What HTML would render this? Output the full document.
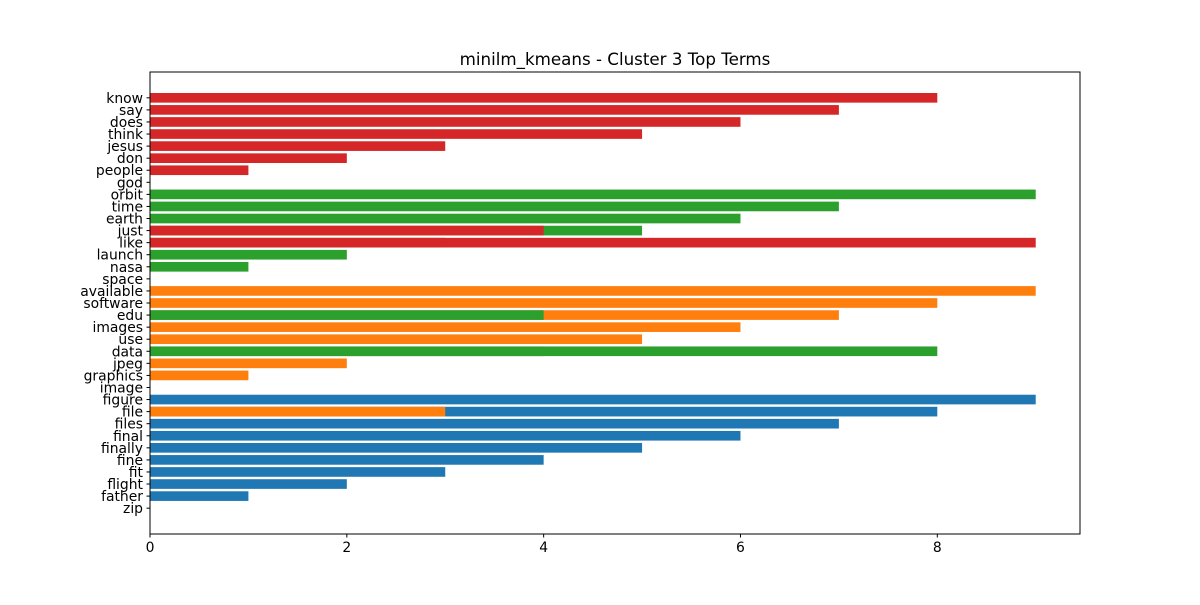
<!DOCTYPE html>
<html><head><meta charset="utf-8"><style>
body{margin:0;background:#fff;}
svg{font-family:"DejaVu Sans","Liberation Sans",sans-serif;}
</style></head><body>
<svg id="chart" width="1200" height="600"></svg>
<script>
const seriesColors = ["#1f77b4","#ff7f0e","#2ca02c","#d62728"];
const blueTerms = ["zip","father","flight","fit","fine","finally","final","files","file","figure"];
const blueValues = [0,1,2,3,4,5,6,7,8,9];
const orangeTerms = ["image","graphics","jpeg","file","data","use","images","edu","software","available"];
const orangeValues = [0,1,2,3,4,5,6,7,8,9];
const greenTerms = ["space","nasa","launch","like","edu","just","earth","time","data","orbit"];
const greenValues = [0,1,2,3,4,5,6,7,8,9];
const redTerms = ["god","people","don","jesus","just","think","does","say","know","like"];
const redValues = [0,1,2,3,4,5,6,7,8,9];
const xTicks = [0,2,4,6,8];

const series = [[blueTerms,blueValues],[orangeTerms,orangeValues],[greenTerms,greenValues],[redTerms,redValues]];
const cats = [];
series.forEach(s=>s[0].forEach(t=>{if(!cats.includes(t))cats.push(t);}));
const L=150,R=1080,T=72,B=534;
const xmax=9.45;
const ymin=-0.4-1.74, ymax=cats.length-1+0.4+1.74;
const X=v=>L+v/xmax*(R-L);
const Y=i=>B-(i-ymin)/(ymax-ymin)*(B-T);
const bh=0.8*(B-T)/(ymax-ymin);
const svg=document.getElementById('chart');
const NS="http://www.w3.org/2000/svg";
function mk(tag,attrs,txt){const e=document.createElementNS(NS,tag);for(const k in attrs)e.setAttribute(k,attrs[k]);if(txt!==undefined)e.textContent=txt;svg.appendChild(e);return e;}
series.forEach((s,si)=>{
  s[0].forEach((t,j)=>{
    const i=cats.indexOf(t);
    const r=mk('rect',{x:X(0),y:Y(i)-bh/2,width:X(s[1][j])-X(0),height:bh,fill:seriesColors[si]});
    
    
  });
});
const frame=mk('rect',{x:L,y:T,width:R-L,height:B-T,fill:'none',stroke:'#000','stroke-width':1});


cats.forEach((c,i)=>{
  mk('line',{x1:L-3.5,x2:L,y1:Y(i),y2:Y(i),stroke:'#000'});
  const t=mk('text',{x:L-7,y:Y(i)+5,'text-anchor':'end','font-size':13.9},c);
  
  
});
xTicks.forEach(v=>{
  mk('line',{x1:X(v),x2:X(v),y1:B,y2:B+3.5,stroke:'#000'});
  const t=mk('text',{x:X(v),y:B+18,'text-anchor':'middle','font-size':13.9},String(v));
  
  
});
const title=mk('text',{x:(L+R)/2,y:65,'text-anchor':'middle','font-size':16.7},'minilm_kmeans - Cluster 3 Top Terms');


</script>
</body></html>
